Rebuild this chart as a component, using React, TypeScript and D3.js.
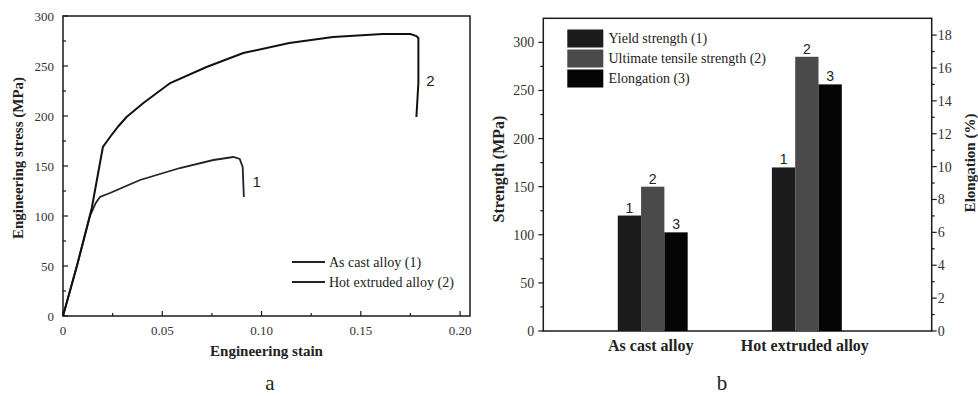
import * as d3 from "d3";

// panel a: stress-strain curves
const asCastStrain = [0, 0.007, 0.0136, 0.0165, 0.0186, 0.0237, 0.0388, 0.0589, 0.0757, 0.0858, 0.089, 0.0905, 0.0911];
const asCastStress = [0, 50, 100, 113, 119, 123, 136, 148, 156, 159, 157, 149, 119];
const extrudedStrain = [0, 0.007, 0.0145, 0.0201, 0.0237, 0.028, 0.032, 0.0405, 0.054, 0.0723, 0.0908, 0.114, 0.136, 0.161, 0.175, 0.178, 0.179, 0.179, 0.178];
const extrudedStress = [0, 50, 108, 169, 179, 190, 199, 213, 233, 249, 263, 273, 279, 282, 282, 280, 278, 233, 199];
const curveNames = ["As cast alloy (1)", "Hot extruded alloy (2)"];
const strainTicks = [0, 0.05, 0.1, 0.15, 0.2];
const stressTicks = [0, 50, 100, 150, 200, 250, 300];

// panel b: bars
const alloys = ["As cast alloy", "Hot extruded alloy"];
const yieldStrength = [120, 170];
const tensileStrength = [150, 285];
const elongation = [6, 15];
const barNames = ["Yield strength (1)", "Ultimate tensile strength (2)", "Elongation (3)"];
const strengthTicks = [0, 50, 100, 150, 200, 250, 300];
const elongTicks = [0, 2, 4, 6, 8, 10, 12, 14, 16, 18];

const serif = "'Liberation Serif', 'Times New Roman', serif";
const sans = "'Liberation Sans', Arial, sans-serif";
const ink = "#1a1a1a";

function PanelA() {
  const x = d3.scaleLinear().domain([0, 0.205]).range([63, 470]);
  const y = d3.scaleLinear().domain([0, 300]).range([316, 16]);
  const line = d3.line<[number, number]>().x((d) => x(d[0])).y((d) => y(d[1]));
  const c1 = asCastStrain.map((s, i) => [s, asCastStress[i]] as [number, number]);
  const c2 = extrudedStrain.map((s, i) => [s, extrudedStress[i]] as [number, number]);
  const xMinor = d3.range(0.025, 0.2, 0.05);
  const yMinor = d3.range(25, 300, 50);
  const [x0, x1] = x.range();
  const [y0, y1] = y.range();
  return (
    <g>
      <rect x={x0} y={y1} width={x1 - x0} height={y0 - y1} fill="none" stroke={ink} strokeWidth={1.5} />
      {stressTicks.map((t) => (
        <g key={"ys" + t}>
          <line x1={x0} x2={x0 + 5} y1={y(t)} y2={y(t)} stroke={ink} strokeWidth={1.2} />
          <text x={x0 - 9} y={y(t) + 4.5} textAnchor="end" fontSize={13} fontFamily={serif} fill="#333">{t}</text>
        </g>
      ))}
      {yMinor.map((t) => (
        <line key={"ym" + t} x1={x0} x2={x0 + 3} y1={y(t)} y2={y(t)} stroke={ink} strokeWidth={1.2} />
      ))}
      {strainTicks.map((t) => (
        <g key={"xs" + t}>
          <line x1={x(t)} x2={x(t)} y1={y0} y2={y0 - 5} stroke={ink} strokeWidth={1.2} />
          <text x={x(t)} y={y0 + 19} textAnchor="middle" fontSize={13} fontFamily={serif} fill="#333">
            {t === 0 ? "0" : t.toFixed(2)}
          </text>
        </g>
      ))}
      {xMinor.map((t) => (
        <line key={"xm" + t} x1={x(t)} x2={x(t)} y1={y0} y2={y0 - 3} stroke={ink} strokeWidth={1.2} />
      ))}
      <path d={line(c1) || ""} fill="none" stroke="#222" strokeWidth={1.8} />
      <path d={line(c2) || ""} fill="none" stroke="#111" strokeWidth={2} />
      <text x={x(0.0955)} y={y(129)} fontSize={15} fontFamily={sans} fill="#222">1</text>
      <text x={x(0.183)} y={y(230)} fontSize={15} fontFamily={sans} fill="#222">2</text>
      {curveNames.map((n, i) => (
        <g key={n}>
          <line x1={292} x2={325} y1={262 + i * 20} y2={262 + i * 20} stroke="#222" strokeWidth={i === 0 ? 1.8 : 2.2} />
          <text x={329} y={267 + i * 20} fontSize={14} fontFamily={serif} fill="#222">{n}</text>
        </g>
      ))}
      <text x={(x0 + x1) / 2} y={356} textAnchor="middle" fontSize={15} fontWeight="bold" fontFamily={serif} fill="#222">
        Engineering stain
      </text>
      <text transform={`translate(23,158) rotate(-90)`} textAnchor="middle" fontSize={15} fontWeight="bold" fontFamily={serif} fill="#222">
        Engineering stress (MPa)
      </text>
      <text x={270} y={390} textAnchor="middle" fontSize={21} fontFamily={serif} fill="#222">a</text>
    </g>
  );
}

function PanelB() {
  const x = d3.scaleLinear().domain([-0.71, 1.81]).range([543.3, 931.7]);
  const yL = d3.scaleLinear().domain([0, 325]).range([331, 18.3]);
  const yR = d3.scaleLinear().domain([0, 19.02]).range([331, 18.3]);
  const barW = 23.3;
  const colors = ["#1c1c1c", "#4a4a4a", "#050505"];
  const series = [
    { values: yieldStrength, scale: yL },
    { values: tensileStrength, scale: yL },
    { values: elongation, scale: yR },
  ];
  const [x0, x1] = x.range();
  const [y0, y1] = yL.range();
  const lMinor = d3.range(25, 325, 50);
  const rMinor = d3.range(1, 19, 2);
  return (
    <g>
      <rect x={x0} y={y1} width={x1 - x0} height={y0 - y1} fill="none" stroke={ink} strokeWidth={1.5} />
      {strengthTicks.map((t) => (
        <g key={"l" + t}>
          <line x1={x0} x2={x0 - 5} y1={yL(t)} y2={yL(t)} stroke={ink} strokeWidth={1.2} />
          <text x={x0 - 9} y={yL(t) + 5} textAnchor="end" fontSize={14} fontFamily={serif} fill="#333">{t}</text>
        </g>
      ))}
      {lMinor.map((t) => (
        <line key={"lm" + t} x1={x0} x2={x0 - 3} y1={yL(t)} y2={yL(t)} stroke={ink} strokeWidth={1.2} />
      ))}
      {elongTicks.map((t) => (
        <g key={"r" + t}>
          <line x1={x1} x2={x1 + 5} y1={yR(t)} y2={yR(t)} stroke={ink} strokeWidth={1.2} />
          <text x={x1 + 6} y={yR(t) + 5} fontSize={14} fontFamily={serif} fill="#333">{t}</text>
        </g>
      ))}
      {rMinor.map((t) => (
        <line key={"rm" + t} x1={x1} x2={x1 + 3} y1={yR(t)} y2={yR(t)} stroke={ink} strokeWidth={1.2} />
      ))}
      {alloys.map((a, i) => (
        <g key={a}>
          {series.map((s, j) => {
            const bx = x(i) + (j - 1.5) * barW;
            const top = s.scale(s.values[i]);
            return (
              <g key={j}>
                <rect x={bx} y={top} width={barW} height={y0 - top} fill={colors[j]} />
                <text x={bx + barW / 2} y={top - 3} textAnchor="middle" fontSize={14} fontFamily={sans} fill="#222">{j + 1}</text>
              </g>
            );
          })}
          <text x={x(i) - 2} y={351} textAnchor="middle" fontSize={16} fontWeight="bold" fontFamily={serif} fill="#222">{a}</text>
        </g>
      ))}
      {barNames.map((n, j) => (
        <g key={n}>
          <rect x={567.3} y={29.5 + j * 20} width={36} height={18} fill={colors[j]} />
          <text x={608.5} y={43 + j * 20} fontSize={14} fontFamily={serif} fill="#222">{n}</text>
        </g>
      ))}
      <text transform={`translate(504,169) rotate(-90)`} textAnchor="middle" fontSize={16} fontWeight="bold" fontFamily={serif} fill="#222">
        Strength (MPa)
      </text>
      <text transform={`translate(975,163) rotate(-90)`} textAnchor="middle" fontSize={15} fontWeight="bold" fontFamily={serif} fill="#222">
        Elongation (%)
      </text>
      <text x={722} y={390} textAnchor="middle" fontSize={21} fontFamily={serif} fill="#222">b</text>
    </g>
  );
}

export default function App() {
  return (
    <svg width={978} height={396} style={{ position: "absolute", left: 0, top: 0, background: "#fff" }}>
      <rect width={978} height={396} fill="#fff" />
      <PanelA />
      <PanelB />
    </svg>
  );
}
